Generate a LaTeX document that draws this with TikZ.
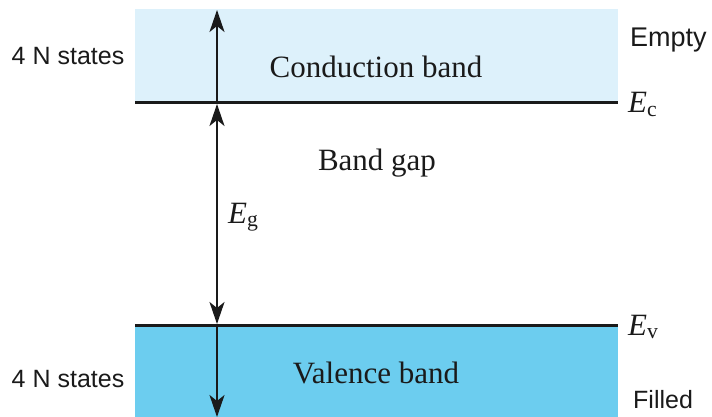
\documentclass[tikz,border=0pt]{standalone}
\usepackage{fontspec}
\setmainfont{Liberation Serif}
\setsansfont{Liberation Sans}
\usetikzlibrary{arrows.meta,positioning}
\definecolor{condband}{HTML}{DDF1FB}
\definecolor{valband}{HTML}{6CCDEF}
\definecolor{ink}{HTML}{1A1A1A}

\begin{document}
\begin{tikzpicture}[x=1pt,y=-1pt,
  lbl/.style={font=\fontsize{31}{31}\selectfont,inner sep=0pt,text=ink},
  side/.style={font=\sffamily\fontsize{25}{25}\selectfont,inner sep=0pt,text=ink},
  edge/.style={draw=ink,line width=3pt},
  arr/.style={draw=ink,line width=2pt,-{Stealth[length=22pt,width=15pt,inset=6pt]}},
  dbl/.style={draw=ink,line width=2pt,{Stealth[length=22pt,width=15pt,inset=6pt]}-{Stealth[length=22pt,width=15pt,inset=6pt]}}]
\useasboundingbox (0,0) rectangle (712,417);
% bands
\fill[condband] (135,9) rectangle (618,103);
\fill[valband] (135,325) rectangle (618,417);
\coordinate (cl) at (135,103);
\coordinate (cr) at (618,103);
\coordinate (vl) at (135,325);
\coordinate (vr) at (618,325);
\draw[edge] (cl) -- (cr);
\draw[edge] (vl) -- (vr);
% arrows
\coordinate (ctop) at (217,10);
\coordinate (gtop) at (217,104);
\coordinate (gbot) at (217,324);
\coordinate (vbot) at (217,417);
\draw[arr] (gtop) -- (ctop);
\draw[dbl] (gtop) -- (gbot);
\draw[arr] (gbot) -- (vbot);
% labels
\node[lbl,anchor=base] (cb) at (376,78) {Conduction band};
\node[lbl,anchor=base] (gap) at (377,170) {Band gap};
\node[lbl,anchor=base] (vb) at (376,383) {Valence band};
\node[lbl,anchor=base west] (eg) at (228,223) {\textit{E}\textsubscript{g}};
\node[lbl,anchor=base west] (ec) at (628,113) {\textit{E}\textsubscript{c}};
\node[lbl,anchor=base west] (ev) at (628,335) {\textit{E}\textsubscript{v}};
\node[side,anchor=base] (nc) at (68,65) {4 N states};
\node[side,anchor=base] (nv) at (68,387) {4 N states};
\node[side,anchor=base west,font=\sffamily\fontsize{27}{27}\selectfont] (emp) at (630,47) {Empty};
\node[side,anchor=base west] (fil) at (633,408) {Filled};
\end{tikzpicture}
\end{document}
